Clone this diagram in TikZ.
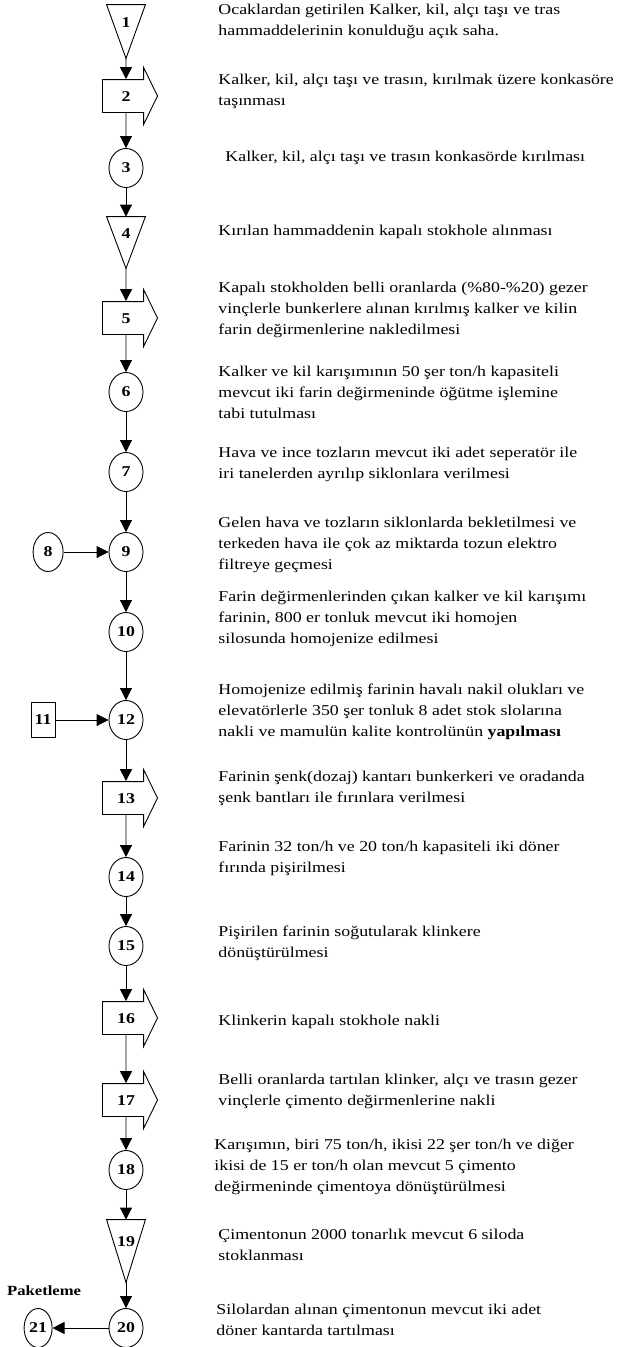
\documentclass[tikz,border=0pt]{standalone}
\usepackage{fontspec}
\setmainfont{Liberation Serif}[FakeStretch=1.19]
\usetikzlibrary{positioning, calc, shapes.geometric, shapes.arrows, arrows.meta}

\begin{document}
\begin{tikzpicture}[x=1pt, y=-1pt, line width=0.9pt,
        every node/.style={font=\bfseries\fontsize{15}{17}\selectfont, inner sep=0pt},
        oper/.style={ellipse, draw, minimum width=34pt, minimum height=39pt},
        stocktri/.style={minimum width=38pt, minimum height=53pt, text height=10pt, text depth=19pt},
        transp/.style={single arrow, draw, minimum height=55pt, inner xsep=2pt, inner ysep=11pt,
                text height=10pt, text depth=0pt, single arrow head extend=12pt, single arrow tip angle=128},
        ctrl/.style={rectangle, draw, minimum width=24pt, minimum height=35pt},
        desc/.style={anchor=north west, align=left, font=\fontsize{15}{21}\selectfont, execute at begin node=\strut},
        flow/.style={-{Triangle[length=12pt, width=12pt]}}]
        \useasboundingbox (0,0) rectangle (624,1347);

        % Process chain
        \node[stocktri] (n1) at (126,31.5) {1};
        \node[transp] (n2) at (126,96) {2};
        \node[oper] (n3) at (126,168) {3};
        \node[stocktri, minimum height=51pt] (n4) at (126,242.5) {4};
        \node[transp] (n5) at (126,318) {5};
        \node[oper] (n6) at (126,392) {6};
        \node[oper] (n7) at (126,472) {7};
        \node[oper] (n9) at (126,552) {9};
        \node[oper, minimum width=30pt] (n8) [left=45pt of n9] {8};
        \node[oper] (n10) at (126,632) {10};
        \node[oper] (n12) at (126,720) {12};
        \node[ctrl] (n11) [left=53pt of n12] {11};
        \node[transp] (n13) at (126,798) {13};
        \node[oper] (n14) at (126,877) {14};
        \node[oper] (n15) at (126,946) {15};
        \node[transp] (n16) at (126,1018) {16};
        \node[transp] (n17) at (126,1100) {17};
        \node[oper] (n18) at (126,1170) {18};
        \node[stocktri, minimum height=62pt] (n19) at (126,1251) {19};
        \node[oper] (n20) at (126,1328) {20};
        \node[oper, minimum width=28pt] (n21) [left=56pt of n20] {21};
        \node[font=\bfseries\fontsize{14}{16}\selectfont] (pack) [above=12pt of n21, xshift=6pt] {Paketleme};

        % Storage triangles
        \foreach \n in {n1, n4, n19} {
                \draw (\n.north west) -- (\n.north east) -- (\n.south) -- cycle;
        }

        % Connectors
        \foreach \i/\j in {n1/n2, n2/n3, n3/n4, n4/n5, n5/n6, n6/n7, n7/n9, n9/n10, n10/n12,
                n12/n13, n13/n14, n14/n15, n15/n16, n16/n17, n17/n18, n18/n19, n19/n20,
                n8/n9, n11/n12, n20/n21} {
                \draw[flow] (\i) -- (\j);
        }

        % Descriptions
        \node[desc] (t1) at (218,3.3) {Ocaklardan getirilen Kalker, kil, alçı taşı ve tras\\hammaddelerinin konulduğu açık saha.};
        \node[desc] (t2) at (218,73.3) {Kalker, kil, alçı taşı ve trasın, kırılmak üzere konkasöre\\taşınması};
        \node[desc] (t3) at (225,146.3) {Kalker, kil, alçı taşı ve trasın konkasörde kırılması};
        \node[desc] (t4) at (218,220.3) {Kırılan hammaddenin kapalı stokhole alınması};
        \node[desc] (t5) at (218,281.3) {Kapalı stokholden belli oranlarda (\%80-\%20) gezer\\vinçlerle bunkerlere alınan kırılmış kalker ve kilin\\farin değirmenlerine nakledilmesi};
        \node[desc] (t6) at (218,365.3) {Kalker ve kil karışımının 50 şer ton/h kapasiteli\\mevcut iki farin değirmeninde öğütme işlemine\\tabi tutulması};
        \node[desc] (t7) at (218,446.3) {Hava ve ince tozların mevcut iki adet seperatör ile\\iri tanelerden ayrılıp siklonlara verilmesi};
        \node[desc] (t9) at (218,516.3) {Gelen hava ve tozların siklonlarda bekletilmesi ve\\terkeden hava ile çok az miktarda tozun elektro\\filtreye geçmesi};
        \node[desc] (t10) at (218,590.3) {Farin değirmenlerinden çıkan kalker ve kil karışımı\\farinin, 800 er tonluk mevcut iki homojen\\silosunda homojenize edilmesi};
        \node[desc] (t12) at (218,683.3) {Homojenize edilmiş farinin havalı nakil olukları ve\\elevatörlerle 350 şer tonluk 8 adet stok slolarına\\nakli ve mamulün kalite kontrolünün \textbf{yapılması}};
        \node[desc] (t13) at (218,770.3) {Farinin şenk(dozaj) kantarı bunkerkeri ve oradanda\\şenk bantları ile fırınlara verilmesi};
        \node[desc] (t14) at (218,840.3) {Farinin 32 ton/h ve 20 ton/h kapasiteli iki döner\\fırında pişirilmesi};
        \node[desc] (t15) at (218,925.3) {Pişirilen farinin soğutularak klinkere\\dönüştürülmesi};
        \node[desc] (t16) at (218,1010.3) {Klinkerin kapalı stokhole nakli};
        \node[desc] (t17) at (218,1073.3) {Belli oranlarda tartılan klinker, alçı ve trasın gezer\\vinçlerle çimento değirmenlerine nakli};
        \node[desc] (t18) at (214,1138.3) {Karışımın, biri 75 ton/h, ikisi 22 şer ton/h ve diğer\\ikisi de 15 er ton/h olan mevcut 5 çimento\\değirmeninde çimentoya dönüştürülmesi};
        \node[desc] (t19) at (218,1228.3) {Çimentonun 2000 tonarlık mevcut 6 siloda\\stoklanması};
        \node[desc] (t20) at (216,1303.3) {Silolardan alınan çimentonun mevcut iki adet\\döner kantarda tartılması};
\end{tikzpicture}
\end{document}
